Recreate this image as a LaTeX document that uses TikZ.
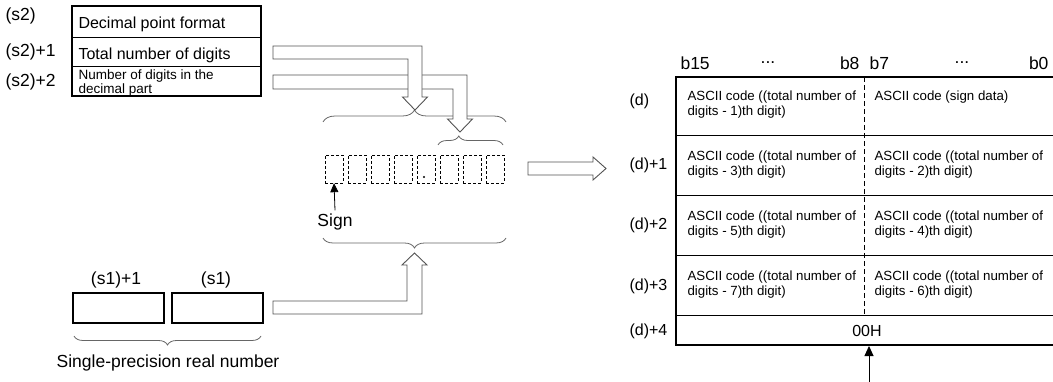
\documentclass[tikz,border=0pt]{standalone}
\usepackage{fontspec}
\setmainfont{Liberation Sans}
\usetikzlibrary{arrows.meta,decorations.pathreplacing}
\tikzset{
  lbl/.style={font=\fontsize{17.5}{20}\selectfont},
  dlbl/.style={font=\fontsize{16}{18}\selectfont,anchor=west},
  boxtxt/.style={font=\fontsize{16}{18}\selectfont,anchor=west},
  celltxt/.style={font=\fontsize{13.3}{15}\selectfont,anchor=west,align=left},
  digit/.style={draw,dash pattern=on 3pt off 2pt,minimum width=18pt,minimum height=28pt,inner sep=0pt},
  hollow/.style={draw=gray!65!black,fill=white,line width=0.9pt,line join=miter},
  brc/.style={draw=gray!80!black,line width=0.8pt,decorate},
}
\begin{document}
\begin{tikzpicture}[x=1pt,y=-1pt]
\useasboundingbox (0,0) rectangle (1053,382);
% source block (s2)
\draw[line width=0.8pt] (72,37) -- (261,37) (72,66) -- (261,66);
\draw[line width=1.6pt] (72,6) rectangle (261,96);
\node[lbl,anchor=west] (s2a) at (2,16) {(s2)};
\node[lbl,anchor=west] (s2b) at (2,52) {(s2)+1};
\node[lbl,anchor=west] (s2c) at (2,82) {(s2)+2};
\node[boxtxt] (fmt) at (75,24) {Decimal point format};
\node[boxtxt] (tot) at (75,55) {Total number of digits};
\node[boxtxt,font=\fontsize{13.5}{11.5}\selectfont,align=left] (dec) at (75,83) {Number of digits in the\\decimal part};
% digit boxes
\foreach \i in {1,...,8}
  \node[digit] (dg\i) at ({334+23*(\i-1)},169) {};
\fill (dg5.center) ++(-2,8) circle (1.1);
\node[lbl] (sign) at (335,222) {Sign};
\draw[-{Triangle[length=9pt,width=8pt]},line width=0.8pt] (sign.north) -- (dg1.south);
% braces
\draw[brc,decoration={brace,amplitude=12pt}] (323,122) -- (506,122);
\draw[brc,decoration={brace,amplitude=9pt,aspect=0.32}] (438,145) -- (503,145);
\draw[brc,decoration={brace,amplitude=10pt}] (506,238) -- (323,238);
% hollow arrows
\draw[hollow] (273,75) -- (467,75) -- (467,119) -- (472.5,119) -- (460,132) -- (447.5,119) -- (453,119) -- (453,89) -- (273,89) -- cycle;
\draw[hollow] (273,46) -- (422,46) -- (422,97) -- (427.5,97) -- (415,110) -- (402.5,97) -- (408,97) -- (408,59) -- (273,59) -- cycle;
\draw[hollow] (273,314) -- (422,314) -- (422,265) -- (427,265) -- (414.5,253) -- (402,265) -- (407,265) -- (407,301) -- (273,301) -- cycle;
\draw[hollow] (528,162) -- (593,162) -- (593,157) -- (606,168.5) -- (593,180) -- (593,175) -- (528,175) -- cycle;
% source (s1)
\draw[line width=1.3pt] (73,293) rectangle (164,323);
\draw[line width=1.3pt] (172,293) rectangle (263,323);
\node[lbl] (s1b) at (116,280) {(s1)+1};
\node[lbl] (s1a) at (216,280) {(s1)};
\draw[brc,decoration={brace,amplitude=9pt}] (261,336) -- (74,336);
\node[lbl] (real) at (168,363) {Single-precision real number};
% destination table (d)
\draw[line width=0.8pt] (676,135) -- (1053,135) (676,195) -- (1053,195) (676,255) -- (1053,255) (676,315) -- (1053,315);
\draw[line width=0.9pt,dash pattern=on 5pt off 3pt] (864,77) -- (864,315);
\draw[line width=1.6pt] (1053,77) -- (676,77) -- (676,345) -- (1053,345);
\node[lbl,anchor=west] (b15) at (677,63) {b15};
\node[lbl] (dt1) at (768,63) {...};
\node[lbl,anchor=east] (b8) at (863,63) {b8};
\node[lbl,anchor=west] (b7) at (866,63) {b7};
\node[lbl] (dt2) at (962,63) {...};
\node[lbl,anchor=east] (b0) at (1052,63) {b0};
\foreach \i/\yy in {1/105,2/165,3/225,4/285} {
  \pgfmathtruncatemacro\lo{2*\i-1}
  \node[celltxt] (c\i l) at (684,\yy) {ASCII code ((total number of\\digits - \lo)th digit)};
}
\node[celltxt] (c1r) at (871,97) {ASCII code (sign data)};
\foreach \i/\yy in {2/165,3/225,4/285} {
  \pgfmathtruncatemacro\hi{2*\i-2}
  \node[celltxt] (c\i r) at (871,\yy) {ASCII code ((total number of\\digits - \hi)th digit)};
}
\node[font=\fontsize{16}{18}\selectfont] (nul) at (867,331) {00H};
\node[dlbl] (d0) at (626,101) {(d)};
\node[dlbl] (d1) at (626,165) {(d)+1};
\node[dlbl] (d2) at (626,225) {(d)+2};
\node[dlbl] (d3) at (626,286) {(d)+3};
\node[dlbl] (d4) at (626,331) {(d)+4};
\coordinate (nulend) at (869,382);
\coordinate (nultip) at (869,346);
\draw[-{Triangle[length=10pt,width=9pt]},line width=0.9pt] (nulend) -- (nultip);
\end{tikzpicture}
\end{document}
